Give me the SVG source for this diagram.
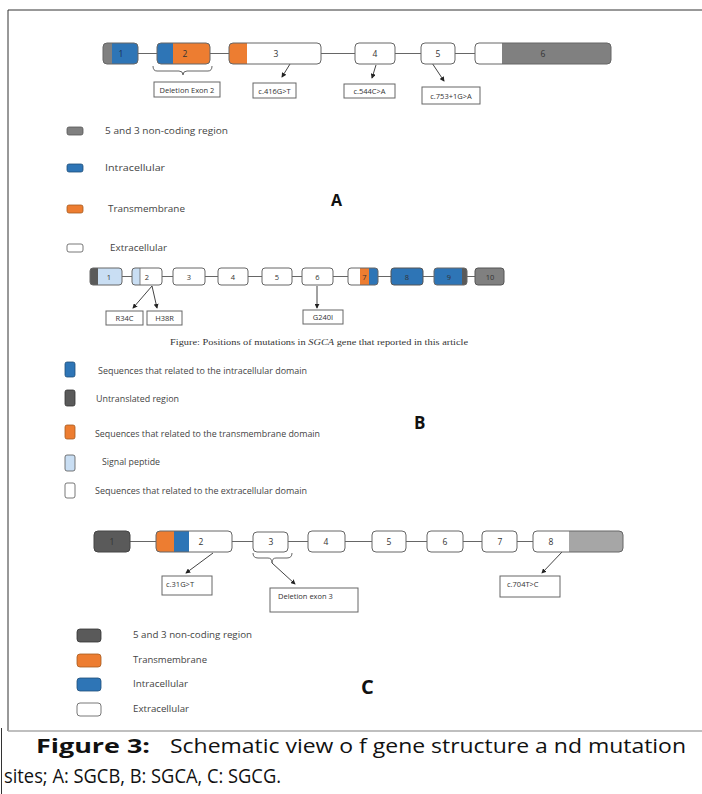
<svg xmlns="http://www.w3.org/2000/svg" width="702" height="794" viewBox="0 0 702 794">
<style>
.lbl{font-family:"Open Sans","Liberation Sans",sans-serif;font-size:8.5px;fill:#333;text-anchor:middle}
.lbl2{font-family:"Open Sans","Liberation Sans",sans-serif;font-size:7.5px;fill:#333;text-anchor:middle}
.box{fill:#fff;stroke:#666;stroke-width:1}
.ex{fill:none;stroke:#666;stroke-width:1}
.cn{stroke:#666;stroke-width:1;fill:none}
.ar{stroke:#444;stroke-width:1;fill:none;marker-end:url(#ah)}
.bl{fill:#2e75b6}.or{fill:#ed7d31}.gy{fill:#808080}.dg{fill:#5a5a5a}.lb{fill:#c9def3}.wh{fill:#fff}.lg{fill:#a6a6a6}
.leg{font-family:"Open Sans","Liberation Sans",sans-serif;font-size:9px;fill:#444}
.big{font-family:"Open Sans","Liberation Sans",sans-serif;font-weight:bold;fill:#111}
.cap{font-family:"Open Sans","Liberation Sans",sans-serif;font-size:19.5px;fill:#111}
</style>
<defs>
<marker id="ah" viewBox="0 0 6 6" refX="5" refY="3" markerWidth="5" markerHeight="5" orient="auto"><path d="M0,0 L6,3 L0,6 z" fill="#222"/></marker>
<clipPath id="cA1"><rect x="103" y="43" width="35" height="21" rx="4"/></clipPath>
<clipPath id="cA2"><rect x="157" y="43" width="53" height="21" rx="4"/></clipPath>
<clipPath id="cA3"><rect x="229" y="43" width="92" height="21" rx="4"/></clipPath>
<clipPath id="cA6"><rect x="475" y="43" width="136" height="21" rx="4"/></clipPath>
<clipPath id="cB1"><rect x="90" y="268" width="32" height="17" rx="3"/></clipPath>
<clipPath id="cB2"><rect x="132" y="268" width="30" height="17" rx="3"/></clipPath>
<clipPath id="cB7"><rect x="348" y="268" width="30" height="17" rx="3"/></clipPath>
<clipPath id="cB9"><rect x="434" y="268" width="33" height="17" rx="3"/></clipPath>
<clipPath id="cC2"><rect x="156" y="531" width="76" height="21" rx="4"/></clipPath>
<clipPath id="cC8"><rect x="533" y="531" width="90" height="21" rx="4"/></clipPath>
</defs>
<rect width="702" height="794" fill="#fff"/>
<g id="frame">
<line x1="8" y1="10" x2="702" y2="10" stroke="#333" stroke-width="1"/>
<line x1="8" y1="10" x2="8" y2="731" stroke="#333" stroke-width="1"/>
<line x1="8" y1="731" x2="702" y2="731" stroke="#aaa" stroke-width="1.5"/>
<line x1="1.5" y1="728" x2="1.5" y2="794" stroke="#333" stroke-width="1"/>
</g>
<g id="connectors">
<line class="cn" x1="138" y1="53.5" x2="157" y2="53.5"/>
<line class="cn" x1="210" y1="53.5" x2="229" y2="53.5"/>
<line class="cn" x1="321" y1="53.5" x2="355" y2="53.5"/>
<line class="cn" x1="395" y1="53.5" x2="421" y2="53.5"/>
<line class="cn" x1="455" y1="53.5" x2="475" y2="53.5"/>
<path class="cn" d="M153,66 Q153,71 157,71 L179,71 Q183,71 183,75 Q183,71 187,71 L208,71 Q212,71 212,66"/>
<line class="ar" x1="290" y1="64" x2="282" y2="77"/>
<line class="ar" x1="376" y1="65" x2="372" y2="78"/>
<line class="ar" x1="432" y1="63" x2="444" y2="81"/>
<line class="cn" x1="122" y1="276.5" x2="132" y2="276.5"/>
<line class="cn" x1="162" y1="276.5" x2="173" y2="276.5"/>
<line class="cn" x1="205" y1="276.5" x2="218" y2="276.5"/>
<line class="cn" x1="248" y1="276.5" x2="262" y2="276.5"/>
<line class="cn" x1="292" y1="276.5" x2="302" y2="276.5"/>
<line class="cn" x1="333" y1="276.5" x2="348" y2="276.5"/>
<line class="cn" x1="378" y1="276.5" x2="391" y2="276.5"/>
<line class="cn" x1="423" y1="276.5" x2="434" y2="276.5"/>
<line class="cn" x1="467" y1="276.5" x2="475" y2="276.5"/>
<line class="ar" x1="152" y1="286" x2="133" y2="308"/>
<line class="ar" x1="152" y1="286" x2="157" y2="308"/>
<line class="ar" x1="317" y1="286" x2="317" y2="308"/>
<line class="cn" x1="130" y1="541.5" x2="156" y2="541.5"/>
<line class="cn" x1="232" y1="541.5" x2="253" y2="541.5"/>
<line class="cn" x1="288" y1="541.5" x2="308" y2="541.5"/>
<line class="cn" x1="345" y1="541.5" x2="372" y2="541.5"/>
<line class="cn" x1="406" y1="541.5" x2="427" y2="541.5"/>
<line class="cn" x1="463" y1="541.5" x2="482" y2="541.5"/>
<line class="cn" x1="517" y1="541.5" x2="533" y2="541.5"/>
<path class="cn" d="M253,553 Q253,558 258,558 L268,558 Q272,558 272,563 Q272,558 276,558 L287,558 Q292,558 292,553"/>
<line class="ar" x1="213" y1="553" x2="186" y2="573"/>
<line class="ar" x1="272" y1="563" x2="295" y2="584"/>
<line class="ar" x1="562" y1="552" x2="542" y2="573"/>
</g>
<g id="A-exon1"><g clip-path="url(#cA1)"><rect class="gy" x="103" y="43" width="9" height="21"/><rect class="bl" x="112" y="43" width="26" height="21"/></g><rect class="ex" x="103" y="43" width="35" height="21" rx="4"/><text class="lbl" x="121" y="57" style="fill:#1a2a55">1</text></g>
<g id="A-exon2"><g clip-path="url(#cA2)"><rect class="bl" x="157" y="43" width="16" height="21"/><rect class="or" x="173" y="43" width="37" height="21"/></g><rect class="ex" x="157" y="43" width="53" height="21" rx="4"/><text class="lbl" x="185" y="57">2</text></g>
<g id="A-exon3"><g clip-path="url(#cA3)"><rect class="or" x="229" y="43" width="18" height="21"/><rect class="wh" x="247" y="43" width="74" height="21"/></g><rect class="ex" x="229" y="43" width="92" height="21" rx="4"/><text class="lbl" x="276" y="57">3</text></g>
<g id="A-exon4"><rect class="box" x="355" y="43" width="40" height="21" rx="4"/><text class="lbl" x="375" y="57">4</text></g>
<g id="A-exon5"><rect class="box" x="421" y="43" width="34" height="21" rx="4"/><text class="lbl" x="438" y="57">5</text></g>
<g id="A-exon6"><g clip-path="url(#cA6)"><rect class="wh" x="475" y="43" width="27" height="21"/><rect class="gy" x="502" y="43" width="109" height="21"/></g><rect class="ex" x="475" y="43" width="136" height="21" rx="4"/><text class="lbl" x="543" y="57">6</text></g>
<g id="A-del2"><rect class="box" x="154" y="82" width="66" height="15"/><text class="lbl2" x="187" y="92.5">Deletion Exon 2</text></g>
<g id="A-m416"><rect class="box" x="253" y="83" width="43" height="15"/><text class="lbl2" x="274.5" y="93.5">c.416G&gt;T</text></g>
<g id="A-m544"><rect class="box" x="344" y="84" width="51" height="14"/><text class="lbl2" x="369.5" y="94">c.544C&gt;A</text></g>
<g id="A-m753"><rect class="box" x="422" y="87" width="58" height="17"/><text class="lbl2" x="451" y="98.5">c.753+1G&gt;A</text></g>
<g id="A-legend">
<rect class="gy" x="67" y="127" width="16" height="8" rx="2" stroke="#555" stroke-width="0.8"/><text class="leg" x="105" y="134" textLength="123" lengthAdjust="spacingAndGlyphs">5 and 3 non-coding region</text>
<rect class="bl" x="67" y="164" width="16" height="8" rx="2" stroke="#1f4e79" stroke-width="0.8"/><text class="leg" x="105" y="171" textLength="60" lengthAdjust="spacingAndGlyphs">Intracellular</text>
<rect class="or" x="67" y="205" width="16" height="8" rx="2" stroke="#a65a1e" stroke-width="0.8"/><text class="leg" x="108" y="212" textLength="77" lengthAdjust="spacingAndGlyphs">Transmembrane</text>
<rect class="wh" x="67" y="244" width="16" height="8" rx="2" stroke="#555" stroke-width="0.8"/><text class="leg" x="110" y="251" textLength="57" lengthAdjust="spacingAndGlyphs">Extracellular</text>
<text class="big" x="331" y="206" font-size="16">A</text>
</g>
<g id="B-exon1"><g clip-path="url(#cB1)"><rect class="dg" x="90" y="268" width="8" height="17"/><rect class="lb" x="98" y="268" width="24" height="17"/></g><rect class="ex" x="90" y="268" width="32" height="17" rx="3"/><text class="lbl2" x="109" y="279.5">1</text></g>
<g id="B-exon2"><g clip-path="url(#cB2)"><rect class="lb" x="132" y="268" width="8" height="17"/><rect class="wh" x="140" y="268" width="22" height="17"/></g><rect class="ex" x="132" y="268" width="30" height="17" rx="3"/><line x1="140" y1="268" x2="140" y2="285" stroke="#666" stroke-width="0.8"/><text class="lbl2" x="147" y="279.5">2</text></g>
<g id="B-exon3"><rect class="box" x="173" y="268" width="32" height="17" rx="3"/><text class="lbl2" x="189" y="279.5">3</text></g>
<g id="B-exon4"><rect class="box" x="218" y="268" width="30" height="17" rx="3"/><text class="lbl2" x="233" y="279.5">4</text></g>
<g id="B-exon5"><rect class="box" x="262" y="268" width="30" height="17" rx="3"/><text class="lbl2" x="277" y="279.5">5</text></g>
<g id="B-exon6"><rect class="box" x="302" y="268" width="31" height="17" rx="3"/><text class="lbl2" x="317.5" y="279.5">6</text></g>
<g id="B-exon7"><g clip-path="url(#cB7)"><rect class="wh" x="348" y="268" width="12" height="17"/><rect class="or" x="360" y="268" width="9" height="17"/><rect class="bl" x="369" y="268" width="9" height="17"/></g><rect class="ex" x="348" y="268" width="30" height="17" rx="3"/><text class="lbl2" x="364.5" y="279.5">7</text></g>
<g id="B-exon8"><rect class="bl" x="391" y="268" width="32" height="17" rx="3" stroke="#555" stroke-width="1"/><text class="lbl2" x="407" y="279.5">8</text></g>
<g id="B-exon9"><g clip-path="url(#cB9)"><rect class="bl" x="434" y="268" width="28" height="17"/><rect class="dg" x="462" y="268" width="5" height="17"/></g><rect class="ex" x="434" y="268" width="33" height="17" rx="3"/><text class="lbl2" x="449" y="279.5">9</text></g>
<g id="B-exon10"><rect class="gy" x="475" y="268" width="29" height="17" rx="3" stroke="#555" stroke-width="1"/><text class="lbl2" x="490" y="279.5">10</text></g>
<g id="B-R34C"><rect class="box" x="106" y="311" width="37" height="14"/><text class="lbl2" x="124.5" y="321">R34C</text></g>
<g id="B-H38R"><rect class="box" x="147" y="311" width="35" height="14"/><text class="lbl2" x="164.5" y="321">H38R</text></g>
<g id="B-G240I"><rect class="box" x="303" y="310" width="40" height="14"/><text class="lbl2" x="323" y="320">G240I</text></g>
<text x="170" y="345" font-family="'Liberation Serif',serif" font-size="8.5" fill="#333" textLength="298" lengthAdjust="spacingAndGlyphs">Figure: Positions of mutations in <tspan font-style="italic">SGCA</tspan> gene that reported in this article</text>
<g id="B-legend">
<rect class="bl" x="65" y="362" width="10" height="15" rx="2" stroke="#1f4e79" stroke-width="0.8"/><text class="leg" x="98" y="374" font-size="8" textLength="209" lengthAdjust="spacingAndGlyphs">Sequences that related to the intracellular domain</text>
<rect class="dg" x="65" y="390" width="10" height="16" rx="2" stroke="#333" stroke-width="0.8"/><text class="leg" x="96" y="402" font-size="8" textLength="83" lengthAdjust="spacingAndGlyphs">Untranslated region</text>
<rect class="or" x="65" y="425" width="10" height="14" rx="2" stroke="#a65a1e" stroke-width="0.8"/><text class="leg" x="95" y="437" font-size="8" textLength="225" lengthAdjust="spacingAndGlyphs">Sequences that related to the transmembrane domain</text>
<rect class="lb" x="65" y="455" width="10" height="16" rx="2" stroke="#555" stroke-width="0.8"/><text class="leg" x="102" y="465" font-size="8" textLength="58" lengthAdjust="spacingAndGlyphs">Signal peptide</text>
<rect class="wh" x="65" y="483" width="10" height="15" rx="2" stroke="#555" stroke-width="0.8"/><text class="leg" x="95" y="494" font-size="8" textLength="212" lengthAdjust="spacingAndGlyphs">Sequences that related to the extracellular domain</text>
<text class="big" x="414" y="429" font-size="17">B</text>
</g>
<g id="C-exon1"><rect class="dg" x="94" y="531" width="36" height="21" rx="4" stroke="#444" stroke-width="1"/><text class="lbl" x="112" y="545">1</text></g>
<g id="C-exon2"><g clip-path="url(#cC2)"><rect class="or" x="156" y="531" width="18" height="21"/><rect class="bl" x="174" y="531" width="15" height="21"/><rect class="wh" x="189" y="531" width="43" height="21"/></g><rect class="ex" x="156" y="531" width="76" height="21" rx="4"/><text class="lbl" x="201" y="545">2</text></g>
<g id="C-exon3"><rect class="box" x="253" y="532" width="35" height="20" rx="4"/><text class="lbl" x="271" y="545">3</text></g>
<g id="C-exon4"><rect class="box" x="308" y="531" width="37" height="21" rx="4"/><text class="lbl" x="326" y="545">4</text></g>
<g id="C-exon5"><rect class="box" x="372" y="531" width="34" height="21" rx="4"/><text class="lbl" x="389" y="545">5</text></g>
<g id="C-exon6"><rect class="box" x="427" y="531" width="36" height="21" rx="4"/><text class="lbl" x="445" y="545">6</text></g>
<g id="C-exon7"><rect class="box" x="482" y="531" width="35" height="21" rx="4"/><text class="lbl" x="500" y="545">7</text></g>
<g id="C-exon8"><g clip-path="url(#cC8)"><rect class="wh" x="533" y="531" width="36" height="21"/><rect class="lg" x="569" y="531" width="54" height="21"/></g><rect class="ex" x="533" y="531" width="90" height="21" rx="4"/><text class="lbl" x="551" y="545">8</text></g>
<g id="C-m31"><rect class="box" x="162" y="576" width="50" height="19"/><text class="lbl2" x="166" y="587" style="text-anchor:start">c.31G&gt;T</text></g>
<g id="C-del3"><rect class="box" x="270" y="588" width="88" height="24"/><text class="lbl2" x="278" y="599" style="text-anchor:start">Deletion exon 3</text></g>
<g id="C-m704"><rect class="box" x="500" y="576" width="60" height="21"/><text class="lbl2" x="507" y="587" style="text-anchor:start">c.704T&gt;C</text></g>
<g id="C-legend">
<rect class="dg" x="77" y="629" width="24" height="13" rx="3" stroke="#333" stroke-width="0.8"/><text class="leg" x="133" y="638" textLength="119" lengthAdjust="spacingAndGlyphs">5 and 3 non-coding region</text>
<rect class="or" x="77" y="654" width="24" height="13" rx="3" stroke="#a65a1e" stroke-width="0.8"/><text class="leg" x="133" y="663" textLength="74" lengthAdjust="spacingAndGlyphs">Transmembrane</text>
<rect class="bl" x="77" y="678" width="24" height="13" rx="3" stroke="#1f4e79" stroke-width="0.8"/><text class="leg" x="133" y="687" textLength="55" lengthAdjust="spacingAndGlyphs">Intracellular</text>
<rect class="wh" x="77" y="703" width="24" height="13" rx="3" stroke="#555" stroke-width="0.8"/><text class="leg" x="133" y="712" textLength="56" lengthAdjust="spacingAndGlyphs">Extracellular</text>
<text class="big" x="361" y="694" font-size="20">C</text>
</g>
<g id="caption">
<text class="cap" x="36" y="753" font-weight="bold" textLength="114" lengthAdjust="spacingAndGlyphs">Figure  3:</text>
<text class="cap" x="170" y="753" textLength="516" lengthAdjust="spacingAndGlyphs">Schematic view o f gene structure a nd mutation</text>
<text class="cap" x="4" y="783" textLength="277" lengthAdjust="spacingAndGlyphs">sites; A: SGCB, B: SGCA, C: SGCG.</text>
</g>
</svg>
